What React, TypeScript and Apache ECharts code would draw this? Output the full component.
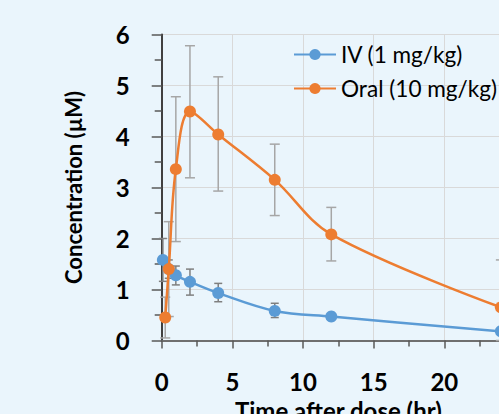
import React, { useEffect, useRef } from "react";
import * as echarts from "echarts";

const xTicks = [0, 5, 10, 15, 20];
const ivTimes = [0.083, 0.5, 1, 2, 4, 8, 12, 24];
const ivMean = [1.58, 1.4, 1.28, 1.15, 0.93, 0.58, 0.47, 0.18];
const ivLow = [1.16, 1.22, 1.09, 0.89, 0.76, 0.45, 0.44, 0.15];
const ivHigh = [2.0, 1.58, 1.46, 1.4, 1.12, 0.73, 0.5, 0.21];

const oralTimes = [0.25, 0.5, 1, 2, 4, 8, 12, 24];
const oralMean = [0.45, 1.4, 3.36, 4.49, 4.04, 3.15, 2.08, 0.65];
const oralLow = [0.05, 0.47, 1.94, 3.19, 2.93, 2.45, 1.56, 0.0];
const oralHigh = [0.85, 2.33, 4.78, 5.78, 5.17, 3.85, 2.61, 1.58];

const FONT = "Lato";

function errorSeries(times: number[], low: number[], high: number[], color: string, hw: number) {
  return {
    type: "custom",
    z: 1,
    silent: true,
    data: times.map((t, i) => [t, low[i], high[i]]),
    encode: { x: 0, y: [1, 2] },
    renderItem: (params: any, api: any) => {
      const x = api.value(0);
      const top = api.coord([x, api.value(2)]);
      const bot = api.coord([x, api.value(1)]);
      const st = { stroke: color, lineWidth: 1.5 };
      return {
        type: "group",
        children: [
          { type: "line", shape: { x1: top[0], y1: top[1], x2: bot[0], y2: bot[1] }, style: st },
          { type: "line", shape: { x1: top[0] - hw, y1: top[1], x2: top[0] + hw, y2: top[1] }, style: st },
          { type: "line", shape: { x1: bot[0] - hw, y1: bot[1], x2: bot[0] + hw, y2: bot[1] }, style: st },
        ],
      };
    },
  };
}

export default function App() {
  const ref = useRef<HTMLDivElement>(null);
  useEffect(() => {
    if (!ref.current) return;
    const chart = echarts.init(ref.current, null, { renderer: "svg" });
    chart.setOption({
      animation: false,
      backgroundColor: "#eaf5fc",
      textStyle: { fontFamily: FONT },
      grid: { left: 161.7, top: 34.5, width: 353.3, height: 306, outerBoundsMode: "none", containLabel: false },
      legend: {
        orient: "vertical",
        left: 293,
        top: 43,
        padding: 0,
        itemWidth: 42,
        itemHeight: 14,
        itemGap: 11,
        itemTextGap: 3,
        textStyle: { fontFamily: FONT, fontSize: 22.6, color: "#000", lineHeight: 23 },
        data: ["IV (1 mg/kg)", "Oral (10 mg/kg)"],
      },
      xAxis: [
        {
          type: "value",
          min: 0,
          max: 25,
          interval: 5,
          name: "Time after dose (hr)",
          nameLocation: "middle",
          nameGap: 58,
          nameTextStyle: { fontFamily: FONT, fontSize: 24, fontWeight: "bold", color: "#000" },
          axisLine: { show: true, onZero: false, lineStyle: { color: "#404040", width: 2 } },
          axisTick: { show: true, length: 8, lineStyle: { color: "#595959", width: 1.5 } },
          minorTick: { show: true, splitNumber: 2, length: 6, lineStyle: { color: "#595959", width: 1.5 } },
          axisLabel: {
            margin: 29,
            fontFamily: FONT,
            fontSize: 24,
            fontWeight: "bold",
            color: "#000",
            formatter: (v: number) => (xTicks.includes(v) ? String(v) : ""),
          },
          splitLine: { show: true, lineStyle: { color: "#d9d9d9", width: 1 } },
        },
        {
          type: "value",
          position: "top",
          min: 0,
          max: 25,
          axisLine: { show: true, lineStyle: { color: "#7f7f7f", width: 1.5 } },
          axisTick: { show: false },
          axisLabel: { show: false },
          splitLine: { show: false },
        },
      ],
      yAxis: {
        type: "value",
        min: 0,
        max: 6,
        interval: 1,
        name: "Concentration (µM)",
        nameLocation: "middle",
        nameGap: 77,
        nameTextStyle: { fontFamily: FONT, fontSize: 22, fontWeight: "bold", color: "#000" },
        axisLine: { show: true, lineStyle: { color: "#404040", width: 2 } },
        axisTick: { show: true, length: 10, lineStyle: { color: "#595959", width: 1.5 } },
        minorTick: { show: true, splitNumber: 2, length: 7, lineStyle: { color: "#595959", width: 1.5 } },
        axisLabel: { margin: 32, fontFamily: FONT, fontSize: 24, fontWeight: "bold", color: "#000" },
        splitLine: { show: true, lineStyle: { color: "#d9d9d9", width: 1 } },
      },
      series: [
        errorSeries(ivTimes, ivLow, ivHigh, "#7f7f7f", 4),
        errorSeries(oralTimes, oralLow, oralHigh, "#a6a6a6", 5),
        {
          name: "IV (1 mg/kg)",
          type: "line",
          z: 3,
          smooth: 0.35,
          symbol: "circle",
          symbolSize: 12,
          color: "#5b9bd5",
          lineStyle: { width: 2.5, color: "#5b9bd5" },
          itemStyle: { color: "#5b9bd5" },
          data: ivTimes.map((t, i) => [t, ivMean[i]]),
        },
        {
          name: "Oral (10 mg/kg)",
          type: "line",
          z: 4,
          smooth: 0.35,
          symbol: "circle",
          symbolSize: 12,
          color: "#ed7d31",
          lineStyle: { width: 2.5, color: "#ed7d31" },
          itemStyle: { color: "#ed7d31" },
          data: oralTimes.map((t, i) => [t, oralMean[i]]),
        },
      ],
    });
    return () => chart.dispose();
  }, []);
  return (
    <div
      ref={ref}
      style={{ position: "fixed", left: 0, top: 0, width: 499, height: 414 }}
    />
  );
}
